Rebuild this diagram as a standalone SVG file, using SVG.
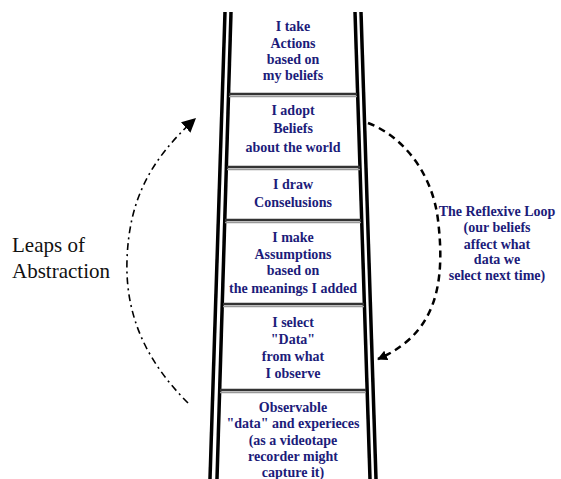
<svg xmlns="http://www.w3.org/2000/svg" width="561" height="479" viewBox="0 0 561 479">
<style>
.rail{stroke:#000;stroke-width:3.5;fill:none}
.rungA{stroke:#333;stroke-width:2.5}
.rungB{stroke:#999;stroke-width:1.5}
text{font-family:'Liberation Serif','Times New Roman',Times,'DejaVu Serif',serif}
.nt{font-weight:bold;font-size:14px;fill:#1c1c7a;text-anchor:middle}
.lt{font-weight:bold;font-size:14px;fill:#1c1c7a;text-anchor:middle}
.ab{font-size:21px;fill:#111}
</style>
<defs>
<marker id="ah" viewBox="0 0 10 10" refX="9" refY="5" markerWidth="10" markerHeight="10" markerUnits="userSpaceOnUse" orient="auto"><path d="M0,0 L10,5 L0,10 z" fill="#000"/></marker>
<marker id="ah2" viewBox="0 0 10 10" refX="9" refY="5" markerWidth="14" markerHeight="14" markerUnits="userSpaceOnUse" orient="auto"><path d="M0,0 L10,5 L0,10 z" fill="#000"/></marker>
</defs>
<g id="ladder">
<line class="rail" x1="225" y1="12" x2="210" y2="479"/>
<line class="rail" x1="231" y1="12" x2="217" y2="479"/>
<line class="rail" x1="355" y1="12" x2="370" y2="479"/>
<line class="rail" x1="361" y1="12" x2="376" y2="479"/>
<line class="rungA" x1="229" y1="94" x2="357" y2="94"/><line class="rungB" x1="229" y1="96.5" x2="357" y2="96.5"/>
<line class="rungA" x1="227" y1="167" x2="360" y2="167"/><line class="rungB" x1="227" y1="169.5" x2="360" y2="169.5"/>
<line class="rungA" x1="225" y1="220" x2="361" y2="220"/><line class="rungB" x1="225" y1="222.5" x2="361" y2="222.5"/>
<line class="rungA" x1="223" y1="304" x2="364" y2="304"/><line class="rungB" x1="223" y1="306.5" x2="364" y2="306.5"/>
<line class="rungA" x1="220" y1="390" x2="366" y2="390"/><line class="rungB" x1="220" y1="392.5" x2="366" y2="392.5"/>
</g>
<g id="n1"><text class="nt" x="293" y="31">I take</text><text class="nt" x="293" y="48">Actions</text><text class="nt" x="293" y="64">based on</text><text class="nt" x="293" y="80">my beliefs</text></g>
<g id="n2"><text class="nt" x="293" y="115">I adopt</text><text class="nt" x="293" y="133">Beliefs</text><text class="nt" x="293" y="152">about the world</text></g>
<g id="n3"><text class="nt" x="293" y="189">I draw</text><text class="nt" x="293" y="207">Conselusions</text></g>
<g id="n4"><text class="nt" x="293" y="242">I make</text><text class="nt" x="293" y="259">Assumptions</text><text class="nt" x="293" y="275">based on</text><text class="nt" x="293" y="293">the meanings I added</text></g>
<g id="n5"><text class="nt" x="293" y="327">I select</text><text class="nt" x="293" y="344">"Data"</text><text class="nt" x="293" y="361">from what</text><text class="nt" x="293" y="378">I observe</text></g>
<g id="n6"><text class="nt" x="293" y="412">Observable</text><text class="nt" x="293" y="428">"data" and experieces</text><text class="nt" x="293" y="445">(as a videotape</text><text class="nt" x="293" y="461">recorder might</text><text class="nt" x="293" y="477">capture it)</text></g>
<g id="loop-label"><text class="lt" x="497" y="216">The Reflexive Loop</text><text class="lt" x="497" y="232">(our beliefs</text><text class="lt" x="497" y="249">affect what</text><text class="lt" x="497" y="264">data we</text><text class="lt" x="497" y="280">select next time)</text></g>
<g id="leaps-label"><text class="ab" x="12" y="252">Leaps of</text><text class="ab" x="12" y="278">Abstraction</text></g>
<g id="connectors">
<path d="M368,123 C400,135 432,170 438,220 C444,270 440,315 405,343 C395,351 387,355 378,359" fill="none" stroke="#000" stroke-width="2.5" stroke-dasharray="7,5" marker-end="url(#ah)"/>
<path d="M188,403 C150,365 125,320 127,260 C129,200 150,160 195,119" fill="none" stroke="#000" stroke-width="1.6" stroke-dasharray="7,4,2,4" marker-end="url(#ah2)"/>
</g>
</svg>
